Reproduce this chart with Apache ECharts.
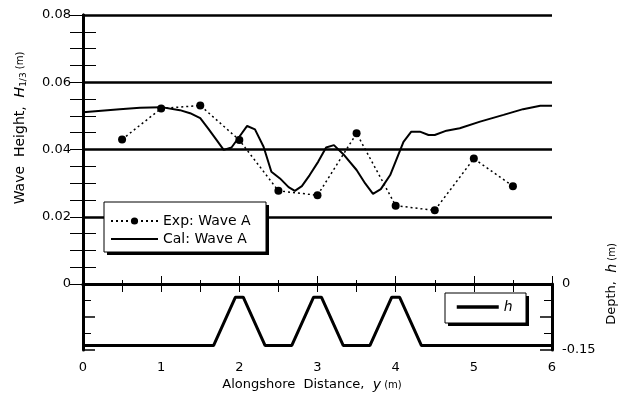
<!DOCTYPE html>
<html>
<head>
<meta charset="utf-8">
<script src="https://cdn.jsdelivr.net/npm/echarts@6/dist/echarts.min.js"></script>
<style>
  html, body { margin: 0; padding: 0; background: #fff; }
  #chart { width: 624px; height: 403px; }
</style>
</head>
<body>
<div id="chart"></div>
<script>
// Measured significant wave height along the shore (every 0.5 m)
const expX = [0.5, 1.0, 1.5, 2.0, 2.5, 3.0, 3.5, 4.0, 4.5, 5.0, 5.5];
const expY = [0.0430, 0.0522, 0.0531, 0.0428, 0.0277, 0.0264, 0.0448, 0.0233, 0.0219, 0.0373, 0.0291];

// Computed wave height
const calX = [0, 0.47, 0.73, 1.0, 1.24, 1.37, 1.5, 1.6, 1.71, 1.8, 1.9, 2.0, 2.1, 2.2, 2.31, 2.41,
  2.52, 2.63, 2.71, 2.8, 2.9, 3.01, 3.11, 3.21, 3.33, 3.5, 3.61, 3.71, 3.81, 3.93, 4.1, 4.2,
  4.31, 4.42, 4.5, 4.65, 4.82, 5.08, 5.38, 5.63, 5.85, 6.0];
const calY = [0.0511, 0.0520, 0.0524, 0.0526, 0.0517, 0.0508, 0.0493, 0.0463, 0.0428, 0.0399, 0.0406,
  0.0438, 0.0470, 0.0460, 0.0408, 0.0334, 0.0314, 0.0288, 0.0277, 0.0291, 0.0324, 0.0364, 0.0406,
  0.0413, 0.0386, 0.0339, 0.0299, 0.0268, 0.0282, 0.0324, 0.0423, 0.0453, 0.0453, 0.0443, 0.0443,
  0.0456, 0.0463, 0.0483, 0.0503, 0.0520, 0.0530, 0.0530];

// Bottom profile: three trapezoidal submerged structures
const hX = [0, 1.67, 1.95, 2.05, 2.33, 2.67, 2.95, 3.05, 3.33, 3.67, 3.95, 4.05, 4.33, 6];
const hY = [-0.14, -0.14, -0.03, -0.03, -0.14, -0.14, -0.03, -0.03, -0.14, -0.14, -0.03, -0.03, -0.14, -0.14];

// Axis ranges
const xRange = [0, 6];
const hRange = [-0.15, 0];
const heightRange = [0, 0.08];

const pair = (xs, ys) => xs.map((x, i) => [x, ys[i]]);
const FONT = 'DejaVu Sans';
const frame = { show: true, lineStyle: { color: '#000', width: 3 } };
const noSymbol = { color: 'rgba(0,0,0,0)', borderColor: 'rgba(0,0,0,0)', borderWidth: 0 };

// Boxed legend frame with a hard drop shadow
function legendBox(x, y, w, h) {
  return [
    { type: 'rect', z: 3, shape: { x: x + 3, y: y + 3, width: w, height: h }, style: { fill: '#000' } },
    { type: 'rect', z: 3, shape: { x: x, y: y, width: w, height: h },
      style: { fill: '#fff', stroke: '#000', lineWidth: 1 } }
  ];
}

const chart = echarts.init(document.getElementById('chart'), null, { renderer: 'canvas' });

chart.setOption({
  animation: false,
  backgroundColor: '#fff',
  textStyle: { fontFamily: FONT, color: '#000' },
  grid: [
    { left: 83, top: 15, width: 469, height: 269 },
    { left: 83, top: 284, width: 469, height: 66 }
  ],
  xAxis: [
    { // upper panel, top edge
      gridIndex: 0, type: 'value', position: 'top', min: xRange[0], max: xRange[1], interval: 0.5,
      axisLine: frame, axisLabel: { show: false }, splitLine: { show: false },
      axisTick: { show: true, inside: true, length: 8, lineStyle: { width: 1, color: '#000' } }
    },
    { // upper panel, zero line
      gridIndex: 0, type: 'value', position: 'bottom', min: xRange[0], max: xRange[1], interval: 1,
      axisLine: { show: true, lineStyle: { color: '#000', width: 2.5 } },
      axisLabel: { show: false }, axisTick: { show: false }, splitLine: { show: false }
    },
    { // lower panel, bottom edge with labels
      gridIndex: 1, type: 'value', position: 'bottom', min: xRange[0], max: xRange[1], interval: 1,
      axisLine: frame,
      axisLabel: { show: true, margin: 11, fontSize: 13, fontFamily: FONT, color: '#000' },
      axisTick: { show: true, inside: true, length: 8, lineStyle: { width: 1, color: '#000' } },
      minorTick: { show: true, splitNumber: 2, length: 4, lineStyle: { width: 1, color: '#000' } },
      splitLine: { show: false }
    }
  ],
  yAxis: [
    { // wave height, left
      gridIndex: 0, type: 'value', position: 'left', min: heightRange[0], max: heightRange[1], interval: 0.02,
      axisLine: frame,
      axisLabel: { show: true, margin: 12, fontSize: 13, fontFamily: FONT, color: '#000',
        formatter: v => (v === 0 ? '0' : v.toFixed(2)) },
      axisTick: { show: true, inside: true, length: 13, lineStyle: { width: 1, color: '#000' } },
      minorTick: { show: true, splitNumber: 4, length: 13, lineStyle: { width: 1, color: '#000' } },
      splitLine: { show: true, lineStyle: { color: '#000', width: 2.5 } }
    },
    { // wave height, right edge ticks
      gridIndex: 0, type: 'value', position: 'right', min: heightRange[0], max: heightRange[1], interval: 0.02,
      axisLine: frame, axisLabel: { show: false },
      axisTick: { show: true, inside: true, length: 13, lineStyle: { width: 1, color: '#000' } },
      minorTick: { show: true, splitNumber: 4, length: 13, lineStyle: { width: 1, color: '#000' } },
      splitLine: { show: false }
    },
    { // depth, left edge ticks
      gridIndex: 1, type: 'value', position: 'left', min: hRange[0], max: hRange[1], interval: 0.075,
      axisLine: frame, axisLabel: { show: false },
      axisTick: { show: true, inside: true, length: 12, lineStyle: { width: 1.5, color: '#000' } },
      minorTick: { show: true, splitNumber: 2, length: 8, lineStyle: { width: 1, color: '#000' } },
      splitLine: { show: false }
    },
    { // depth, right with labels
      gridIndex: 1, type: 'value', position: 'right', min: hRange[0], max: hRange[1], interval: 0.075,
      axisLine: frame,
      axisLabel: { show: true, margin: 10, fontSize: 13, fontFamily: FONT, color: '#000',
        formatter: v => (v === 0 ? '0' : (Math.abs(v + 0.15) < 1e-9 ? '-0.15' : '')) },
      axisTick: { show: true, inside: true, length: 12, lineStyle: { width: 1.5, color: '#000' } },
      minorTick: { show: true, splitNumber: 2, length: 8, lineStyle: { width: 1, color: '#000' } },
      splitLine: { show: false }
    }
  ],
  legend: [
    {
      data: [
        { name: 'Exp: Wave A' },
        { name: 'Cal: Wave A', itemStyle: noSymbol }
      ],
      orient: 'vertical', left: 104, top: 202,
      padding: [11, 12, 8, 6], itemGap: 2, itemWidth: 47, itemHeight: 9,
      backgroundColor: 'rgba(0,0,0,0)', borderWidth: 0, z: 4,
      textStyle: { fontFamily: FONT, fontSize: 14, color: '#000', lineHeight: 16 },
      selectedMode: false
    },
    {
      data: [{ name: 'h', itemStyle: noSymbol, lineStyle: { width: 3.5, color: '#000' } }],
      left: 445, top: 293,
      padding: [7, 16, 7, 10], itemWidth: 42, itemHeight: 14,
      backgroundColor: 'rgba(0,0,0,0)', borderWidth: 0, z: 4,
      textStyle: { fontFamily: FONT, fontSize: 14, fontStyle: 'italic', color: '#000' },
      selectedMode: false
    }
  ],
  series: [
    {
      name: 'Exp: Wave A', type: 'line', xAxisIndex: 0, yAxisIndex: 0,
      data: pair(expX, expY),
      symbol: 'circle', symbolSize: 8, showSymbol: true,
      itemStyle: { color: '#000' },
      lineStyle: { color: '#000', width: 1.5, type: [2, 3] },
      z: 5
    },
    {
      name: 'Cal: Wave A', type: 'line', xAxisIndex: 0, yAxisIndex: 0,
      data: pair(calX, calY),
      symbol: 'none', showSymbol: false,
      itemStyle: noSymbol,
      lineStyle: { color: '#000', width: 2 },
      z: 4
    },
    {
      name: 'h', type: 'line', xAxisIndex: 2, yAxisIndex: 2,
      data: pair(hX, hY),
      symbol: 'none', showSymbol: false,
      itemStyle: noSymbol,
      lineStyle: { color: '#000', width: 3 },
      z: 4
    }
  ],
  graphic: [
    ...legendBox(104, 202, 162, 50),
    ...legendBox(445, 293, 81, 30),
    {
      type: 'text', x: 20, y: 128, rotation: Math.PI / 2,
      style: {
        text: '{a|Wave  Height,  }{i|H}{s|1/3}{u| (m)}',
        align: 'center', verticalAlign: 'middle', fill: '#000',
        rich: {
          a: { fontFamily: FONT, fontSize: 14, fill: '#000' },
          i: { fontFamily: FONT, fontSize: 14, fontStyle: 'italic', fill: '#000' },
          s: { fontFamily: FONT, fontSize: 9, fill: '#000', padding: [7, 0, 0, 0], verticalAlign: 'bottom' },
          u: { fontFamily: FONT, fontSize: 10, fill: '#000' }
        }
      }
    },
    {
      type: 'text', x: 612, y: 284, rotation: Math.PI / 2,
      style: {
        text: '{a|Depth,  }{i|h}{u| (m)}',
        align: 'center', verticalAlign: 'middle', fill: '#000',
        rich: {
          a: { fontFamily: FONT, fontSize: 13, fill: '#000' },
          i: { fontFamily: FONT, fontSize: 14, fontStyle: 'italic', fill: '#000' },
          u: { fontFamily: FONT, fontSize: 10, fill: '#000' }
        }
      }
    },
    {
      type: 'text', x: 312, y: 385,
      style: {
        text: '{a|Alongshore  Distance,  }{i|y}{u| (m)}',
        align: 'center', verticalAlign: 'middle', fill: '#000',
        rich: {
          a: { fontFamily: FONT, fontSize: 13, fill: '#000' },
          i: { fontFamily: FONT, fontSize: 14, fontStyle: 'italic', fill: '#000' },
          u: { fontFamily: FONT, fontSize: 10, fill: '#000' }
        }
      }
    }
  ]
});
</script>
</body>
</html>
